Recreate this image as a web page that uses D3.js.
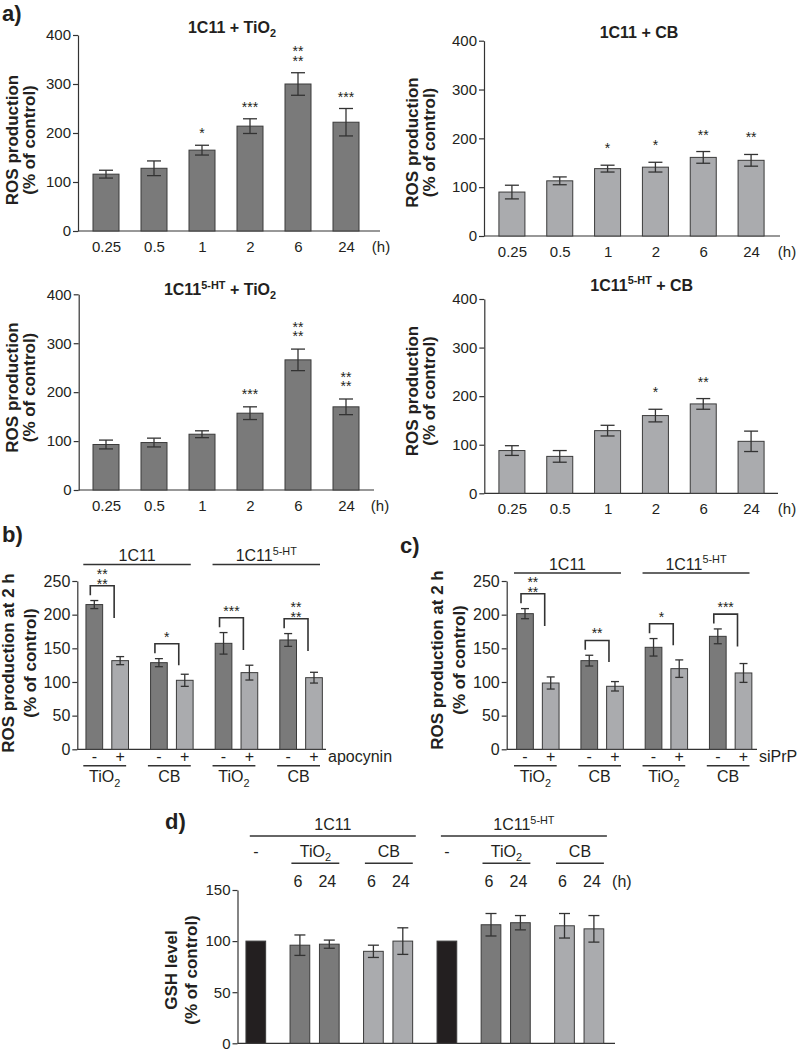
<!DOCTYPE html>
<html><head><meta charset="utf-8">
<script src="https://cdn.jsdelivr.net/npm/d3@7"></script>
<style>
body{margin:0;background:#fff}
svg{display:block}
text{font-family:"Liberation Sans",Arial,Helvetica,sans-serif;fill:#231f20}
</style>
</head><body>
<svg id="fig" width="800" height="1052"></svg>
<script>
// ---------------- DATA ----------------
const timeLabels = ["0.25","0.5","1","2","6","24"];
const aTicks = [0,100,200,300,400];

const ros1C11TiO2Mean = [116,128,165,214,300,222];
const ros1C11TiO2Err  = [8,15,10,15,23,28];
const ros1C11TiO2Sig  = ["","","*","***","**\n**","***"];

const ros1C11CBMean = [90,113,138,141,161,155];
const ros1C11CBErr  = [14,8,7,10,12,12];
const ros1C11CBSig  = ["","","*","*","**","**"];

const ros5HTTiO2Mean = [93,97,114,157,266,170];
const ros5HTTiO2Err  = [9,9,7,13,22,16];
const ros5HTTiO2Sig  = ["","","","***","**\n**","**\n**"];

const ros5HTCBMean = [88,76,129,160,184,107];
const ros5HTCBErr  = [10,12,11,13,11,21];
const ros5HTCBSig  = ["","","","*","**",""];

const pairTreatments = ["TiO2","CB","TiO2","CB"];
const cellLines = ["1C11","1C11 5-HT"];
const bcTicks = [0,50,100,150,200,250];

const apoMinusMean = [215,128.7,157.4,162.4];
const apoMinusErr  = [6,6,16,9.5];
const apoPlusMean  = [131.7,102.5,113.9,106.4];
const apoPlusErr   = [6,9,11,8];
const apoSig       = ["**\n**","*","***","**\n**"];

const siMinusMean = [201.5,131.7,151.5,167.8];
const siMinusErr  = [7.5,8,13,11];
const siPlusMean  = [98.5,93.6,119.8,113.4];
const siPlusErr   = [9,7,13,14];
const siSig       = ["**\n**","**","*","***"];

const gshTimes = ["6","24"];
const gshTicks = [0,50,100,150];
const gshControl = [100,100];
const gsh1C11TiO2Mean = [96,97];   const gsh1C11TiO2Err = [10,4];
const gsh1C11CBMean   = [90,100];  const gsh1C11CBErr   = [6,13];
const gsh5HTTiO2Mean  = [116,118]; const gsh5HTTiO2Err  = [11,7];
const gsh5HTCBMean    = [115,112]; const gsh5HTCBErr    = [12,13];

// ---------------- STYLE ----------------
const svg = d3.select("#fig");
const INK="#231f20", AX="#333333", DARK="#7a7a7a", LIGHT="#aaabae", BLACK="#231f20", EDGE="#3b3b3b";

function rich(sel, str, size){
  let parts;
  if (str === "TiO2") parts = [["TiO",""],["2","sub"]];
  else if (str === "1C11 5-HT") parts = [["1C11",""],["5-HT","sup"]];
  else if (str === "1C11 + TiO2") parts = [["1C11 + TiO",""],["2","sub"]];
  else if (str === "1C11 5-HT + TiO2") parts = [["1C11",""],["5-HT","sup"],[" + TiO",""],["2","sub"]];
  else if (str === "1C11 5-HT + CB") parts = [["1C11",""],["5-HT","sup"],[" + CB",""]];
  else parts = [[str,""]];
  let shift = 0;
  parts.forEach(([t,m])=>{
    const target = m==="sub" ? size*0.28 : m==="sup" ? -size*0.4 : 0;
    sel.append("tspan").attr("dy", target-shift).attr("font-size", m ? size*0.68 : size).text(t);
    shift = target;
  });
  return sel;
}
function styleAxis(a, fs){
  a.attr("font-size", fs).attr("font-family", null);
  a.select(".domain").attr("stroke", AX).attr("stroke-width", 1.2);
  a.selectAll(".tick line").attr("stroke", AX).attr("stroke-width", 1.2);
  a.selectAll("text").attr("fill", INK).attr("font-size", fs);
}
function hline(g,x1,x2,y,w){
  g.append("line").attr("x1",x1).attr("x2",x2).attr("y1",y).attr("y2",y).attr("stroke",AX).attr("stroke-width",w||1.2);
}
function yLabel(g, lines, xs, cy, fs){
  lines.forEach((t,i)=>{
    g.append("text").attr("transform",`translate(${xs[i]},${cy}) rotate(-90)`)
      .attr("text-anchor","middle").attr("font-weight","bold").attr("font-size",fs).text(t);
  });
}
function bars(g, data, x, y, bw){
  g.selectAll(null).data(data).join("rect")
    .attr("x",d=>x(d.k)-bw/2).attr("y",d=>y(d.m)).attr("width",bw).attr("height",d=>y(0)-y(d.m))
    .attr("fill",d=>d.fill).attr("stroke",EDGE).attr("stroke-width",1);
}
function errorBars(g, data, x, y, cap){
  const eg = g.append("g").attr("stroke",AX).attr("stroke-width",1.3);
  data.filter(d=>d.e>0).forEach(d=>{
    const cx = x(d.k);
    eg.append("line").attr("x1",cx).attr("x2",cx).attr("y1",y(d.m-d.e)).attr("y2",y(d.m+d.e));
    eg.append("line").attr("x1",cx-cap/2).attr("x2",cx+cap/2).attr("y1",y(d.m+d.e)).attr("y2",y(d.m+d.e));
    eg.append("line").attr("x1",cx-cap/2).attr("x2",cx+cap/2).attr("y1",y(d.m-d.e)).attr("y2",y(d.m-d.e));
  });
}
// significance stars; multi-row stars in a single text element
function stars(g, s, cx, bottomCenterY){
  if(!s) return;
  const lines = s.split("\n");
  const t = g.append("text").attr("text-anchor","middle").attr("font-size",14);
  lines.forEach((row,i)=>{
    const cy = bottomCenterY - (lines.length-1-i)*9.3;
    t.append("tspan").attr("x",cx).attr("y",cy+8).text(row);
  });
}

// ---------------- PANEL a ----------------
function timePanel(p){
  const g = svg.append("g");
  const y = d3.scaleLinear().domain([0,400]).range([p.y0,p.y400]);
  const x = d3.scalePoint().domain(timeLabels).range([p.xL,p.xR]).padding(0.5);
  const ya = g.append("g").attr("transform",`translate(${p.ax},0)`)
    .call(d3.axisLeft(y).tickValues(aTicks).tickSize(5).tickSizeOuter(0).tickPadding(2));
  styleAxis(ya,15);
  const xa = g.append("g").attr("transform",`translate(0,${p.y0})`)
    .call(d3.axisBottom(x).tickSize(0).tickPadding(10));
  xa.select(".domain").remove();
  styleAxis(xa,15);
  hline(g,p.ax,p.xEnd,p.y0);
  g.append("text").attr("x",p.hX).attr("y",p.y0+21).attr("text-anchor","middle").attr("font-size",15).text("(h)");
  const data = p.means.map((m,i)=>({k:timeLabels[i],m,e:p.errs[i],s:p.sigs[i],fill:p.fill}));
  bars(g,data,x,y,26);
  errorBars(g,data,x,y,14);
  data.forEach(d=>stars(g,d.s,x(d.k),y(d.m+d.e)-p.starOff));
  rich(g.append("text").attr("x",p.tX).attr("y",p.tY).attr("text-anchor","middle").attr("font-weight","bold"), p.title, 16);
  yLabel(g,["ROS production","(% of control)"],p.labX,p.labY,17);
}
timePanel({ax:78,y0:231,y400:35,xL:82,xR:370,xEnd:380,hX:381,means:ros1C11TiO2Mean,errs:ros1C11TiO2Err,sigs:ros1C11TiO2Sig,fill:DARK,starOff:15,title:"1C11 + TiO2",tX:232,tY:33,labX:[18,35],labY:140});
timePanel({ax:484,y0:236,y400:40.7,xL:488,xR:775,xEnd:780,hX:787,means:ros1C11CBMean,errs:ros1C11CBErr,sigs:ros1C11CBSig,fill:LIGHT,starOff:20,title:"1C11 + CB",tX:639,tY:37.5,labX:[418,435],labY:142.5});
timePanel({ax:78.7,y0:490,y400:294.3,xL:82,xR:370,xEnd:374,hX:380,means:ros5HTTiO2Mean,errs:ros5HTTiO2Err,sigs:ros5HTTiO2Sig,fill:DARK,starOff:16,title:"1C11 5-HT + TiO2",tX:220,tY:295,labX:[18,35],labY:387.5});
timePanel({ax:484.3,y0:493.3,y400:299,xL:488,xR:775,xEnd:778,hX:787,means:ros5HTCBMean,errs:ros5HTCBErr,sigs:ros5HTCBSig,fill:LIGHT,starOff:20,title:"1C11 5-HT + CB",tX:641.7,tY:290.7,labX:[418,435],labY:391});

// ---------------- PANELS b, c ----------------
function pairPanel(p){
  const g = svg.append("g");
  const y = d3.scaleLinear().domain([0,250]).range([p.y0,p.y250]);
  const data = [];
  pairTreatments.forEach((t,i)=>{
    data.push({k:5*i,   m:p.minus[i], e:p.minusErr[i], fill:DARK, sign:"-"});
    data.push({k:5*i+2, m:p.plus[i],  e:p.plusErr[i],  fill:LIGHT, sign:"+"});
  });
  const x = d3.scaleLinear().domain([0,d3.max(data,d=>d.k)]).range([p.xFirst,p.xLast]);
  const ya = g.append("g").attr("transform",`translate(${p.ax},0)`)
    .call(d3.axisLeft(y).tickValues(bcTicks).tickSize(5).tickSizeOuter(0).tickPadding(2));
  styleAxis(ya,16);
  hline(g,p.ax,p.xEnd,p.y0);
  bars(g,data,x,y,16.7);
  errorBars(g,data,x,y,8);
  pairTreatments.forEach((t,i)=>{
    const lTop = p.minus[i]+p.minusErr[i];
    const topV = lTop+22;
    const rEndV = topV - (topV>190 ? 48 : 32);
    const lx = x(5*i)-4, rx = x(5*i+2)-6;
    g.append("path").attr("d",`M${lx},${y(lTop+8)}V${y(topV)}H${rx}V${y(rEndV)}`)
      .attr("fill","none").attr("stroke",AX).attr("stroke-width",1.6);
    const rows = p.sig[i].split("\n").length;
    stars(g,p.sig[i],(lx+rx)/2,y(topV)-(rows>1?5:10));
  });
  g.selectAll(null).data(data).join("text").attr("x",d=>x(d.k)).attr("y",p.y0+13)
    .attr("text-anchor","middle").attr("font-size",16).text(d=>d.sign);
  g.append("text").attr("x",p.treatX).attr("y",p.y0+13).attr("font-size",16).text(p.treat);
  const pairSpan = i => [x(5*i)-11, x(5*i+2)+6];
  pairTreatments.forEach((t,i)=>{
    const [a,b] = pairSpan(i);
    hline(g,a,b,p.y0+16.5,1.4);
    rich(g.append("text").attr("x",(a+b)/2).attr("y",p.y0+33).attr("text-anchor","middle"), t, 16);
  });
  cellLines.forEach((c,j)=>{
    const a = pairSpan(2*j)[0], b = pairSpan(2*j+1)[1];
    hline(g,a,b,p.hdrY,1.4);
    rich(g.append("text").attr("x",(a+b)/2).attr("y",p.hdrY-3.5).attr("text-anchor","middle"), c, 16);
  });
  yLabel(g,["ROS production at 2 h","(% of control)"],p.labX,p.labY,17);
}
pairPanel({ax:77.3,y0:749.3,y250:581,xFirst:94.3,xLast:314,xEnd:326,minus:apoMinusMean,minusErr:apoMinusErr,plus:apoPlusMean,plusErr:apoPlusErr,sig:apoSig,treat:"apocynin",treatX:328,hdrY:564.5,labX:[14,35.5],labY:663});
pairPanel({ax:506.7,y0:749.3,y250:581,xFirst:525,xLast:743.5,xEnd:757,minus:siMinusMean,minusErr:siMinusErr,plus:siPlusMean,plusErr:siPlusErr,sig:siSig,treat:"siPrP",treatX:759,hdrY:573,labX:[443,465],labY:660});

// ---------------- PANEL d ----------------
(function(){
  const g = svg.append("g");
  const y = d3.scaleLinear().domain([0,150]).range([1043.3,890]);
  const groups = [
    {cell:0, treat:"TiO2", mean:gsh1C11TiO2Mean, err:gsh1C11TiO2Err, fill:DARK},
    {cell:0, treat:"CB",   mean:gsh1C11CBMean,   err:gsh1C11CBErr,   fill:LIGHT},
    {cell:1, treat:"TiO2", mean:gsh5HTTiO2Mean,  err:gsh5HTTiO2Err,  fill:DARK},
    {cell:1, treat:"CB",   mean:gsh5HTCBMean,    err:gsh5HTCBErr,    fill:LIGHT}
  ];
  const data = [];
  cellLines.forEach((c,j)=>{
    const base = 13*j;
    data.push({k:base, m:gshControl[j], e:0, fill:BLACK, ctrl:true, cell:j});
    groups.filter(gr=>gr.cell===j).forEach((gr,gi)=>{
      gshTimes.forEach((t,ti)=>{
        data.push({k:base+3+5*gi+2*ti, m:gr.mean[ti], e:gr.err[ti], fill:gr.fill, time:t, treat:gr.treat, first:ti===0, cell:j});
      });
    });
  });
  const x = d3.scaleLinear().domain([0,d3.max(data,d=>d.k)]).range([255.8,593.9]);
  const ya = g.append("g").attr("transform","translate(237.5,0)")
    .call(d3.axisLeft(y).tickValues(gshTicks).tickSize(5).tickSizeOuter(0).tickPadding(2));
  styleAxis(ya,15);
  hline(g,237.5,615,1043.3);
  bars(g,data,x,y,19.7);
  errorBars(g,data,x,y,11);
  data.filter(d=>d.time).forEach(d=>{
    g.append("text").attr("x",x(d.k)-2).attr("y",887).attr("text-anchor","middle").attr("font-size",16).text(d.time);
  });
  g.append("text").attr("x",x(d3.max(data,d=>d.k))+28).attr("y",887).attr("text-anchor","middle").attr("font-size",16).text("(h)");
  data.filter(d=>d.ctrl).forEach(d=>{
    g.append("text").attr("x",x(d.k)).attr("y",856.7).attr("text-anchor","middle").attr("font-size",16).text("-");
  });
  data.filter(d=>d.first).forEach(d=>{
    const a = x(d.k)-8.5, b = x(d.k+2)+10;
    hline(g,a,b,863.3,1.4);
    rich(g.append("text").attr("x",(a+b)/2).attr("y",856.7).attr("text-anchor","middle"), d.treat, 16);
  });
  cellLines.forEach((c,j)=>{
    const ks = data.filter(d=>d.cell===j).map(d=>d.k);
    const a = x(d3.min(ks))-6, b = x(d3.max(ks))+13;
    hline(g,a,b,836,1.4);
    rich(g.append("text").attr("x",(a+b)/2).attr("y",830).attr("text-anchor","middle"), c, 16);
  });
  yLabel(g,["GSH level","(% of control)"],[177,197],970,17);
})();

// ---------------- PANEL LETTERS ----------------
[["a)",2,21],["b)",2,542],["c)",400,553],["d)",165,829]].forEach(([t,xx,yy])=>{
  svg.append("text").attr("x",xx).attr("y",yy).attr("font-size",22).attr("font-weight","bold").text(t);
});
</script>
</body></html>
